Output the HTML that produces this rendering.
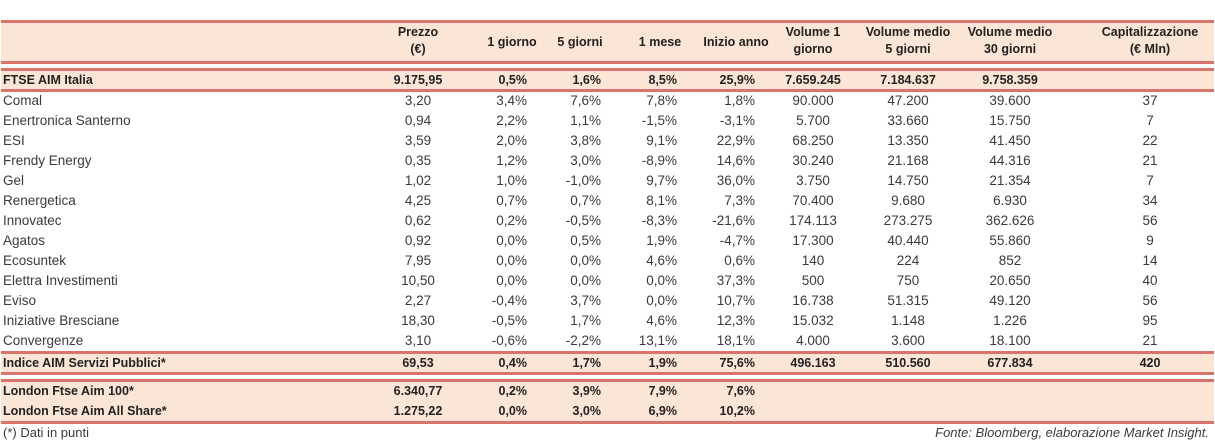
<!DOCTYPE html>
<html><head><meta charset="utf-8"><style>
body{margin:0;width:1215px;height:443px;background:#fff;font-family:"Liberation Sans","DejaVu Sans",sans-serif;color:#3a3a3a;position:relative;overflow:hidden}
.bg{position:absolute;left:1px;width:1213px;background:#fbe5d6}
.ln{position:absolute;left:1px;width:1213px;height:3px;background:#d9746c}
.c{position:absolute;white-space:nowrap;font-size:13.5px;line-height:20px}
.b{font-weight:bold;font-size:12.5px;color:#222}
.h{font-weight:bold;font-size:12.5px;color:#222;text-align:center;line-height:17px}
</style></head><body>
<div class="bg" style="top:21px;height:42px"></div>
<div class="bg" style="top:69px;height:22px"></div>
<div class="bg" style="top:352px;height:21px"></div>
<div class="bg" style="top:380px;height:43px"></div>
<div class="ln" style="top:20px"></div>
<div class="ln" style="top:61px"></div>
<div class="ln" style="top:68px"></div>
<div class="ln" style="top:89px"></div>
<div class="ln" style="top:351px"></div>
<div class="ln" style="top:372px"></div>
<div class="ln" style="top:379px"></div>
<div class="ln" style="top:421px"></div>
<div id="t"></div>
<div class="c" style="left:3px;top:423px;font-size:13px">(*) Dati in punti</div>
<div class="c" style="right:6px;top:423px;font-size:13px;font-style:italic">Fonte: Bloomberg, elaborazione Market Insight.</div>
<script>
const headers=["Prezzo<br>(€)","1 giorno","5 giorni","1 mese","Inizio anno","Volume 1<br>giorno","Volume medio<br>5 giorni","Volume medio<br>30 giorni","Capitalizzazione<br>(€ Mln)"];
const headerCenters=[418,512,580,660,736,813,908,1010,1150];
const rowNames=["FTSE AIM Italia","Comal","Enertronica Santerno","ESI","Frendy Energy","Gel","Renergetica","Innovatec","Agatos","Ecosuntek","Elettra Investimenti","Eviso","Iniziative Bresciane","Convergenze","Indice AIM Servizi Pubblici*","London Ftse Aim 100*","London Ftse Aim All Share*"];
const rowValues=[
["9.175,95","0,5%","1,6%","8,5%","25,9%","7.659.245","7.184.637","9.758.359",""],
["3,20","3,4%","7,6%","7,8%","1,8%","90.000","47.200","39.600","37"],
["0,94","2,2%","1,1%","-1,5%","-3,1%","5.700","33.660","15.750","7"],
["3,59","2,0%","3,8%","9,1%","22,9%","68.250","13.350","41.450","22"],
["0,35","1,2%","3,0%","-8,9%","14,6%","30.240","21.168","44.316","21"],
["1,02","1,0%","-1,0%","9,7%","36,0%","3.750","14.750","21.354","7"],
["4,25","0,7%","0,7%","8,1%","7,3%","70.400","9.680","6.930","34"],
["0,62","0,2%","-0,5%","-8,3%","-21,6%","174.113","273.275","362.626","56"],
["0,92","0,0%","0,5%","1,9%","-4,7%","17.300","40.440","55.860","9"],
["7,95","0,0%","0,0%","4,6%","0,6%","140","224","852","14"],
["10,50","0,0%","0,0%","0,0%","37,3%","500","750","20.650","40"],
["2,27","-0,4%","3,7%","0,0%","10,7%","16.738","51.315","49.120","56"],
["18,30","-0,5%","1,7%","4,6%","12,3%","15.032","1.148","1.226","95"],
["3,10","-0,6%","-2,2%","13,1%","18,1%","4.000","3.600","18.100","21"],
["69,53","0,4%","1,7%","1,9%","75,6%","496.163","510.560","677.834","420"],
["6.340,77","0,2%","3,9%","7,9%","7,6%","","","",""],
["1.275,22","0,0%","3,0%","6,9%","10,2%","","","",""]];
const rowTops=[70,91,111,131,151,171,191,211,231,251,271,291,311,331,353,381,401];
const boldRows=[0,14,15,16];
const colRight=[null,527,601,677,755,null,null,null,null];
const t=document.getElementById('t');
headers.forEach((h,i)=>{
  const d=document.createElement('div');
  d.className='c h';
  
  
  d.innerHTML=h;
  const single=!h.includes('<br>');
  d.style.top=(single?34:24)+'px';
  d.style.left=(headerCenters[i]-70)+'px';d.style.width='140px';
  t.appendChild(d);
});
rowNames.forEach((n,r)=>{
  const b=boldRows.includes(r);
  const d=document.createElement('div');
  d.className='c'+(b?' b':'');
  
  
  d.textContent=n;d.style.left='3px';d.style.top=rowTops[r]+'px';
  t.appendChild(d);
  rowValues[r].forEach((v,i)=>{
    if(!v)return;
    const e=document.createElement('div');
    e.className='c'+(b?' b':'');
    
    
    e.textContent=v;e.style.top=rowTops[r]+'px';
    if(colRight[i]){e.style.right=(1215-colRight[i])+'px';}
    else{e.style.left=(headerCenters[i]-60)+'px';e.style.width='120px';e.style.textAlign='center';}
    t.appendChild(e);
  });
});
</script>
</body></html>
